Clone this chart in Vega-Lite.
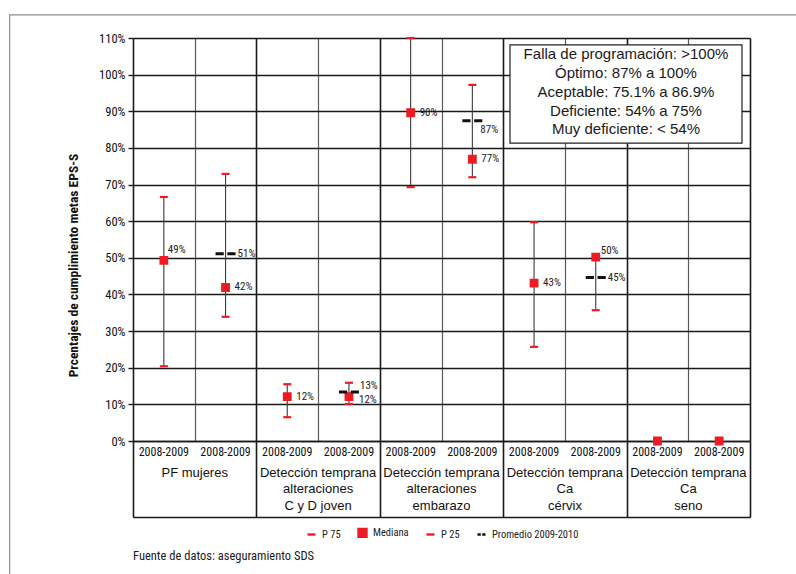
{
  "$schema": "https://vega.github.io/schema/vega-lite/v6.json",
  "width": 617,
  "height": 403,
  "autosize": {"type": "none"},
  "padding": {"left": 133, "top": 38, "right": 46, "bottom": 133},
  "background": "white",
  "config": {
    "view": {"stroke": null},
    "font": "Roboto Condensed",
    "axis": {"labelColor": "#111", "titleColor": "#111"},
    "axisY": {
      "grid": true, "gridColor": "#1a1a1a", "gridWidth": 1.6,
      "domain": false, "ticks": true, "tickSize": 5, "tickColor": "#1a1a1a", "tickWidth": 1.4,
      "labelPadding": 3, "labelFont": "Roboto Condensed", "labelFontSize": 12.5,
      "titleFont": "Roboto Condensed", "titleFontSize": 13.5, "titleFontWeight": "bold"
    }
  },
  "datasets": {
    "metas": [
      {"col": "c1", "grupo": "PF mujeres", "periodo": "2008-2009", "P 75": 0.666, "Mediana": 0.493, "P 25": 0.204, "Promedio 2009-2010": null},
      {"col": "c2", "grupo": "PF mujeres", "periodo": "2008-2009", "P 75": 0.729, "Mediana": 0.419, "P 25": 0.339, "Promedio 2009-2010": 0.511},
      {"col": "c3", "grupo": "Detección temprana alteraciones C y D joven", "periodo": "2008-2009", "P 75": 0.155, "Mediana": 0.121, "P 25": 0.065, "Promedio 2009-2010": null},
      {"col": "c4", "grupo": "Detección temprana alteraciones C y D joven", "periodo": "2008-2009", "P 75": 0.159, "Mediana": 0.121, "P 25": 0.101, "Promedio 2009-2010": 0.134},
      {"col": "c5", "grupo": "Detección temprana alteraciones embarazo", "periodo": "2008-2009", "P 75": 1.1, "Mediana": 0.896, "P 25": 0.693, "Promedio 2009-2010": null},
      {"col": "c6", "grupo": "Detección temprana alteraciones embarazo", "periodo": "2008-2009", "P 75": 0.972, "Mediana": 0.769, "P 25": 0.72, "Promedio 2009-2010": 0.874},
      {"col": "c7", "grupo": "Detección temprana Ca cérvix", "periodo": "2008-2009", "P 75": 0.597, "Mediana": 0.431, "P 25": 0.257, "Promedio 2009-2010": null},
      {"col": "c8", "grupo": "Detección temprana Ca cérvix", "periodo": "2008-2009", "P 75": 0.502, "Mediana": 0.502, "P 25": 0.357, "Promedio 2009-2010": 0.446},
      {"col": "c9", "grupo": "Detección temprana Ca seno", "periodo": "2008-2009", "P 75": null, "Mediana": 0, "P 25": null, "Promedio 2009-2010": null},
      {"col": "c10", "grupo": "Detección temprana Ca seno", "periodo": "2008-2009", "P 75": null, "Mediana": 0, "P 25": null, "Promedio 2009-2010": null}
    ],
    "grupos": [
      {"grupo": "PF mujeres"},
      {"grupo": "Detección temprana\nalteraciones\nC y D joven"},
      {"grupo": "Detección temprana\nalteraciones\nembarazo"},
      {"grupo": "Detección temprana\nCa\ncérvix"},
      {"grupo": "Detección temprana\nCa\nseno"}
    ]
  },
  "layer": [
    {
      "data": {"values": [{}]},
      "layer": [
        {
          "mark": {"type": "rect", "filled": false, "stroke": "#8c8c8c", "strokeWidth": 1.2},
          "encoding": {
            "x": {
              "datum": -2, "type": "quantitative",
              "scale": {"domain": [0, 10], "nice": false, "zero": false},
              "axis": {
                "orient": "bottom", "title": null, "values": [0, 1, 2, 3, 4, 5, 6, 7, 8, 9, 10],
                "labels": false, "grid": true,
                "gridColor": {"condition": {"test": "datum.value % 2 === 1", "value": "#5a5a5a"}, "value": "#1a1a1a"},
                "gridWidth": {"condition": {"test": "datum.value % 2 === 1", "value": 1.2}, "value": 1.6},
                "domain": true, "domainColor": "#1a1a1a", "domainWidth": 1.6,
                "ticks": true, "tickSize": 76, "tickWidth": 1.6,
                "tickColor": {"condition": {"test": "datum.value % 2 === 1", "value": "transparent"}, "value": "#1a1a1a"}
              }
            },
            "x2": {"datum": 11},
            "y": {"datum": 1.163, "type": "quantitative", "scale": {"domain": [0, 1.1], "nice": false},
              "axis": {"orient": "left", "title": "Prcentajes de cumplimiento metas EPS-S", "values": [0, 0.1, 0.2, 0.3, 0.4, 0.5, 0.6, 0.7, 0.8, 0.9, 1.0, 1.1], "format": ".0%", "titleX": -60, "titleY": 227, "titleAngle": -90, "titleAlign": "center", "titleBaseline": "middle"}},
            "y2": {"datum": -0.5}
          }
        },
        {
          "mark": {"type": "rect", "fill": "white", "stroke": "#222", "strokeWidth": 1.2},
          "encoding": {
            "x": {"datum": 6.11, "type": "quantitative"},
            "x2": {"datum": 9.87},
            "y": {"datum": 1.081, "type": "quantitative",
              "axis": {"orient": "left", "title": "Prcentajes de cumplimiento metas EPS-S", "values": [0, 0.1, 0.2, 0.3, 0.4, 0.5, 0.6, 0.7, 0.8, 0.9, 1.0, 1.1], "format": ".0%", "titleX": -60, "titleY": 227, "titleAngle": -90, "titleAlign": "center", "titleBaseline": "middle"}},
            "y2": {"datum": 0.813}
          }
        },
        {
          "mark": {
            "type": "text", "font": "Liberation Sans", "fontSize": 15, "color": "#1a1a1a",
            "align": "center", "baseline": "top", "lineBreak": "\n", "lineHeight": 18.8,
            "text": "Falla de programación: >100%\nÓptimo: 87% a 100%\nAceptable: 75.1% a 86.9%\nDeficiente: 54% a 75%\nMuy deficiente: < 54%"
          },
          "encoding": {
            "x": {"datum": 7.99, "type": "quantitative"},
            "y": {"datum": 1.075, "type": "quantitative",
              "axis": {"orient": "left", "title": "Prcentajes de cumplimiento metas EPS-S", "values": [0, 0.1, 0.2, 0.3, 0.4, 0.5, 0.6, 0.7, 0.8, 0.9, 1.0, 1.1], "format": ".0%", "titleX": -60, "titleY": 227, "titleAngle": -90, "titleAlign": "center", "titleBaseline": "middle"}}
          }
        },
        {
          "mark": {
            "type": "text", "font": "Roboto Condensed", "fontSize": 12.5, "color": "#1a1a1a",
            "align": "left", "baseline": "middle", "text": "Fuente de datos: aseguramiento SDS"
          },
          "encoding": {
            "x": {"datum": 0, "type": "quantitative"},
            "y": {"datum": -0.315, "type": "quantitative",
              "axis": {"orient": "left", "title": "Prcentajes de cumplimiento metas EPS-S", "values": [0, 0.1, 0.2, 0.3, 0.4, 0.5, 0.6, 0.7, 0.8, 0.9, 1.0, 1.1], "format": ".0%", "titleX": -60, "titleY": 227, "titleAngle": -90, "titleAlign": "center", "titleBaseline": "middle"}}
          }
        }
      ]
    },
    {
      "data": {"name": "metas"},
      "layer": [
        {
          "mark": {"type": "rule", "color": "#3a3a3a", "strokeWidth": 1.1},
          "encoding": {
            "x": {
              "field": "col", "type": "nominal", "sort": null,
              "axis": {
                "orient": "bottom", "title": null, "labelExpr": "'2008-2009'", "labelAngle": 0,
                "ticks": false, "tickSize": 0, "domain": false, "grid": false,
                "labelPadding": 5, "labelFont": "Roboto Condensed", "labelFontSize": 12,
                "labelBaseline": "top"
              }
            },
            "y": {
              "field": "P 25", "type": "quantitative",
              "scale": {"domain": [0, 1.1], "nice": false},
              "axis": {"orient": "left", "title": "Prcentajes de cumplimiento metas EPS-S", "values": [0, 0.1, 0.2, 0.3, 0.4, 0.5, 0.6, 0.7, 0.8, 0.9, 1.0, 1.1], "format": ".0%", "titleX": -60, "titleY": 227, "titleAngle": -90, "titleAlign": "center", "titleBaseline": "middle"}
            },
            "y2": {"field": "P 75"}
          }
        },
        {
          "transform": [{"fold": ["P 75", "P 25"], "as": ["serie", "valor"]}],
          "mark": {"type": "point", "filled": true, "opacity": 1, "size": 64, "strokeWidth": 2.2},
          "encoding": {
            "x": {"field": "col", "type": "nominal", "sort": null},
            "y": {"field": "valor", "type": "quantitative",
              "axis": {"orient": "left", "title": "Prcentajes de cumplimiento metas EPS-S", "values": [0, 0.1, 0.2, 0.3, 0.4, 0.5, 0.6, 0.7, 0.8, 0.9, 1.0, 1.1], "format": ".0%", "titleX": -60, "titleY": 227, "titleAngle": -90, "titleAlign": "center", "titleBaseline": "middle"}},
            "shape": {"field": "serie", "type": "nominal",
              "scale": {"domain": ["P 75", "Mediana", "P 25", "Promedio 2009-2010"], "range": ["stroke", "square", "stroke", "M-1,0H-0.18M0.18,0H1"]},
              "legend": {"title": null, "orient": "none", "legendX": 173, "legendY": 489, "direction": "horizontal", "labelFont": "Roboto Condensed", "labelFontSize": 10.5, "labelColor": "#222", "symbolSize": 64, "symbolStrokeWidth": 2.4, "columnPadding": 12, "labelOffset": 5}},
            "fill": {"field": "serie", "type": "nominal",
              "scale": {"domain": ["P 75", "Mediana", "P 25", "Promedio 2009-2010"], "range": ["#ed1c24", "#ed1c24", "#ed1c24", "#111111"]},
              "legend": {"title": null, "orient": "none", "legendX": 173, "legendY": 489, "direction": "horizontal", "labelFont": "Roboto Condensed", "labelFontSize": 10.5, "labelColor": "#222", "symbolSize": 64, "symbolStrokeWidth": 2.4, "columnPadding": 12, "labelOffset": 5}},
            "stroke": {"field": "serie", "type": "nominal",
              "scale": {"domain": ["P 75", "Mediana", "P 25", "Promedio 2009-2010"], "range": ["#ed1c24", "#ed1c24", "#ed1c24", "#111111"]},
              "legend": {"title": null, "orient": "none", "legendX": 173, "legendY": 489, "direction": "horizontal", "labelFont": "Roboto Condensed", "labelFontSize": 10.5, "labelColor": "#222", "symbolSize": 64, "symbolStrokeWidth": 2.4, "columnPadding": 12, "labelOffset": 5}}
          }
        },
        {
          "transform": [{"fold": ["Mediana"], "as": ["serie", "valor"]}],
          "mark": {"type": "point", "filled": true, "opacity": 1, "size": 44, "strokeWidth": 2.2},
          "encoding": {
            "x": {"field": "col", "type": "nominal", "sort": null},
            "y": {"field": "valor", "type": "quantitative",
              "axis": {"orient": "left", "title": "Prcentajes de cumplimiento metas EPS-S", "values": [0, 0.1, 0.2, 0.3, 0.4, 0.5, 0.6, 0.7, 0.8, 0.9, 1.0, 1.1], "format": ".0%", "titleX": -60, "titleY": 227, "titleAngle": -90, "titleAlign": "center", "titleBaseline": "middle"}},
            "shape": {"field": "serie", "type": "nominal"},
            "fill": {"field": "serie", "type": "nominal"},
            "stroke": {"field": "serie", "type": "nominal"}
          }
        },
        {
          "transform": [{"fold": ["Promedio 2009-2010"], "as": ["serie", "valor"]}],
          "mark": {"type": "point", "filled": true, "opacity": 1, "size": 400, "strokeWidth": 3},
          "encoding": {
            "x": {"field": "col", "type": "nominal", "sort": null},
            "y": {"field": "valor", "type": "quantitative",
              "axis": {"orient": "left", "title": "Prcentajes de cumplimiento metas EPS-S", "values": [0, 0.1, 0.2, 0.3, 0.4, 0.5, 0.6, 0.7, 0.8, 0.9, 1.0, 1.1], "format": ".0%", "titleX": -60, "titleY": 227, "titleAngle": -90, "titleAlign": "center", "titleBaseline": "middle"}},
            "shape": {"field": "serie", "type": "nominal"},
            "fill": {"field": "serie", "type": "nominal"},
            "stroke": {"field": "serie", "type": "nominal"}
          }
        },
        {
          "transform": [{"filter": {"field": "col", "oneOf": ["c2", "c3", "c5", "c6", "c7"]}}],
          "mark": {"type": "text", "align": "left", "baseline": "middle", "dx": 9, "font": "Roboto Condensed", "fontSize": 11, "color": "#222"},
          "encoding": {
            "x": {"field": "col", "type": "nominal", "sort": null},
            "y": {"field": "Mediana", "type": "quantitative",
              "axis": {"orient": "left", "title": "Prcentajes de cumplimiento metas EPS-S", "values": [0, 0.1, 0.2, 0.3, 0.4, 0.5, 0.6, 0.7, 0.8, 0.9, 1.0, 1.1], "format": ".0%", "titleX": -60, "titleY": 227, "titleAngle": -90, "titleAlign": "center", "titleBaseline": "middle"}},
            "text": {"field": "Mediana", "type": "quantitative", "format": ".0%"}
          }
        },
        {
          "transform": [{"filter": {"field": "col", "oneOf": ["c4"]}}],
          "mark": {"type": "text", "align": "left", "baseline": "middle", "dx": 10, "dy": 3, "font": "Roboto Condensed", "fontSize": 11, "color": "#222"},
          "encoding": {
            "x": {"field": "col", "type": "nominal", "sort": null},
            "y": {"field": "Mediana", "type": "quantitative",
              "axis": {"orient": "left", "title": "Prcentajes de cumplimiento metas EPS-S", "values": [0, 0.1, 0.2, 0.3, 0.4, 0.5, 0.6, 0.7, 0.8, 0.9, 1.0, 1.1], "format": ".0%", "titleX": -60, "titleY": 227, "titleAngle": -90, "titleAlign": "center", "titleBaseline": "middle"}},
            "text": {"field": "Mediana", "type": "quantitative", "format": ".0%"}
          }
        },
        {
          "transform": [{"filter": {"field": "col", "oneOf": ["c1"]}}],
          "mark": {"type": "text", "align": "left", "baseline": "middle", "dx": 4, "dy": -10, "font": "Roboto Condensed", "fontSize": 11, "color": "#222"},
          "encoding": {
            "x": {"field": "col", "type": "nominal", "sort": null},
            "y": {"field": "Mediana", "type": "quantitative",
              "axis": {"orient": "left", "title": "Prcentajes de cumplimiento metas EPS-S", "values": [0, 0.1, 0.2, 0.3, 0.4, 0.5, 0.6, 0.7, 0.8, 0.9, 1.0, 1.1], "format": ".0%", "titleX": -60, "titleY": 227, "titleAngle": -90, "titleAlign": "center", "titleBaseline": "middle"}},
            "text": {"field": "Mediana", "type": "quantitative", "format": ".0%"}
          }
        },
        {
          "transform": [{"filter": {"field": "col", "oneOf": ["c8"]}}],
          "mark": {"type": "text", "align": "left", "baseline": "middle", "dx": 5, "dy": -6, "font": "Roboto Condensed", "fontSize": 11, "color": "#222"},
          "encoding": {
            "x": {"field": "col", "type": "nominal", "sort": null},
            "y": {"field": "Mediana", "type": "quantitative",
              "axis": {"orient": "left", "title": "Prcentajes de cumplimiento metas EPS-S", "values": [0, 0.1, 0.2, 0.3, 0.4, 0.5, 0.6, 0.7, 0.8, 0.9, 1.0, 1.1], "format": ".0%", "titleX": -60, "titleY": 227, "titleAngle": -90, "titleAlign": "center", "titleBaseline": "middle"}},
            "text": {"field": "Mediana", "type": "quantitative", "format": ".0%"}
          }
        },
        {
          "transform": [{"filter": {"field": "col", "oneOf": ["c2", "c8"]}}],
          "mark": {"type": "text", "align": "left", "baseline": "middle", "dx": 12, "font": "Roboto Condensed", "fontSize": 11, "color": "#222"},
          "encoding": {
            "x": {"field": "col", "type": "nominal", "sort": null},
            "y": {"field": "Promedio 2009-2010", "type": "quantitative",
              "axis": {"orient": "left", "title": "Prcentajes de cumplimiento metas EPS-S", "values": [0, 0.1, 0.2, 0.3, 0.4, 0.5, 0.6, 0.7, 0.8, 0.9, 1.0, 1.1], "format": ".0%", "titleX": -60, "titleY": 227, "titleAngle": -90, "titleAlign": "center", "titleBaseline": "middle"}},
            "text": {"field": "Promedio 2009-2010", "type": "quantitative", "format": ".0%"}
          }
        },
        {
          "transform": [{"filter": {"field": "col", "oneOf": ["c4"]}}],
          "mark": {"type": "text", "align": "left", "baseline": "middle", "dx": 11, "dy": -6, "font": "Roboto Condensed", "fontSize": 11, "color": "#222"},
          "encoding": {
            "x": {"field": "col", "type": "nominal", "sort": null},
            "y": {"field": "Promedio 2009-2010", "type": "quantitative",
              "axis": {"orient": "left", "title": "Prcentajes de cumplimiento metas EPS-S", "values": [0, 0.1, 0.2, 0.3, 0.4, 0.5, 0.6, 0.7, 0.8, 0.9, 1.0, 1.1], "format": ".0%", "titleX": -60, "titleY": 227, "titleAngle": -90, "titleAlign": "center", "titleBaseline": "middle"}},
            "text": {"field": "Promedio 2009-2010", "type": "quantitative", "format": ".0%"}
          }
        },
        {
          "transform": [{"filter": {"field": "col", "oneOf": ["c6"]}}],
          "mark": {"type": "text", "align": "left", "baseline": "middle", "dx": 8, "dy": 9, "font": "Roboto Condensed", "fontSize": 11, "color": "#222"},
          "encoding": {
            "x": {"field": "col", "type": "nominal", "sort": null},
            "y": {"field": "Promedio 2009-2010", "type": "quantitative",
              "axis": {"orient": "left", "title": "Prcentajes de cumplimiento metas EPS-S", "values": [0, 0.1, 0.2, 0.3, 0.4, 0.5, 0.6, 0.7, 0.8, 0.9, 1.0, 1.1], "format": ".0%", "titleX": -60, "titleY": 227, "titleAngle": -90, "titleAlign": "center", "titleBaseline": "middle"}},
            "text": {"field": "Promedio 2009-2010", "type": "quantitative", "format": ".0%"}
          }
        }
      ]
    },
    {
      "data": {"name": "grupos"},
      "mark": {"type": "rule", "opacity": 0},
      "encoding": {
        "x": {
          "field": "grupo", "type": "nominal", "sort": null,
          "axis": {
            "orient": "bottom", "offset": 76, "title": null,
            "labelExpr": "split(datum.label, '\\n')", "labelAngle": 0,
            "labelPadding": -51, "labelLineHeight": 16.5, "labelBaseline": "top",
            "labelFont": "Liberation Sans", "labelFontSize": 13, "labelColor": "#111",
            "ticks": false, "tickSize": 0, "domain": true, "domainColor": "#1a1a1a", "domainWidth": 1.6, "grid": false
          }
        }
      }
    }
  ],
  "resolve": {"scale": {"x": "independent"}}
}
